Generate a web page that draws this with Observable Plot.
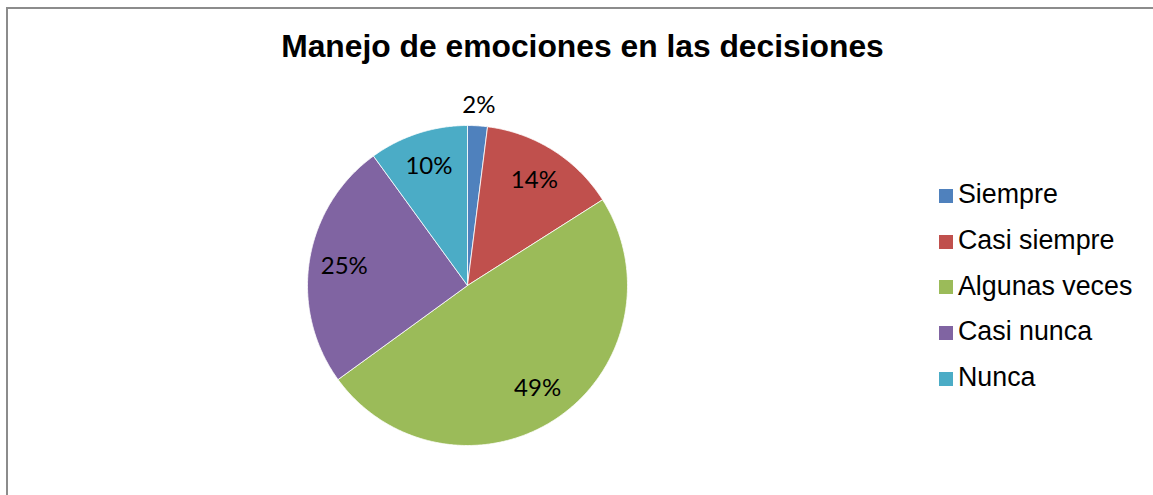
<!DOCTYPE html>
<html>
<head>
<meta charset="utf-8">
<script src="https://cdn.jsdelivr.net/npm/d3@7"></script>
<script src="https://cdn.jsdelivr.net/npm/@observablehq/plot@0.6"></script>
<style>
  html, body { margin: 0; padding: 0; background: #fff; }
  #wrap { position: relative; width: 1153px; height: 495px; overflow: hidden; font-family: "Liberation Sans", Arial, sans-serif; }
  #frame { position: absolute; left: 6px; top: 7px; width: 1200px; height: 600px; border-top: 2px solid #8c8c8c; border-left: 2px solid #8c8c8c; }
  #title { position: absolute; left: 0; width: 1165px; top: 28px; text-align: center; font-weight: bold; font-size: 31.8px; line-height: 36px; color: #000; }
  #pie { position: absolute; left: 267px; top: 85px; }
  .sw { position: absolute; left: 939px; width: 14px; height: 14px; }
  .lt { position: absolute; left: 958px; font-size: 26.8px; line-height: 30px; color: #000; white-space: nowrap; }
</style>
</head>
<body>
<div id="wrap">
  <div id="frame"></div>
  <div id="title">Manejo de emociones en las decisiones</div>
  <div id="pie"></div>
  <div id="legend"></div>
</div>
<script>
const categories = ["Siempre", "Casi siempre", "Algunas veces", "Casi nunca", "Nunca"];
const values = [2, 14, 49, 25, 10];
const labels = ["2%", "14%", "49%", "25%", "10%"];
const colors = ["#4F81BD", "#C0504D", "#9BBB59", "#8064A2", "#4BACC6"];

const total = d3.sum(values);
const slices = [];
const labelPts = [];
let acc = 0;
values.forEach((v, i) => {
  const a0 = acc / total * 2 * Math.PI;
  acc += v;
  const a1 = acc / total * 2 * Math.PI;
  const n = Math.max(2, Math.ceil((a1 - a0) / (Math.PI / 360)));
  slices.push({cat: categories[i], x: 0, y: 0});
  for (let k = 0; k <= n; k++) {
    const a = a0 + (a1 - a0) * k / n;
    slices.push({cat: categories[i], x: Math.sin(a), y: Math.cos(a)});
  }
  slices.push({cat: categories[i], x: 0, y: 0});
  const am = (a0 + a1) / 2;
  const r = v / total < 0.05 ? 1.13 : 0.78;
  labelPts.push({label: labels[i], x: r * Math.sin(am), y: r * Math.cos(am)});
});

const chart = Plot.plot({
  width: 400,
  height: 400,
  margin: 0,
  x: {domain: [-1.25, 1.25], axis: null},
  y: {domain: [-1.25, 1.25], axis: null},
  color: {domain: categories, range: colors},
  style: {background: "transparent", overflow: "visible"},
  marks: [
    Plot.line(slices, {x: "x", y: "y", z: "cat", fill: "cat", stroke: "white", strokeWidth: 0.8, strokeLinejoin: "round"}),
    Plot.text(labelPts, {x: "x", y: "y", text: "label", fontFamily: "Lato, 'Open Sans', sans-serif", fontSize: 24, fill: "#000"})
  ]
});
document.getElementById("pie").appendChild(chart);

const legend = document.getElementById("legend");
categories.forEach((c, i) => {
  const sw = document.createElement("div");
  sw.className = "sw";
  sw.style.top = (189 + i * 45.7) + "px";
  sw.style.background = colors[i];
  legend.appendChild(sw);
  const t = document.createElement("div");
  t.className = "lt";
  t.style.top = (179.3 + i * 45.7) + "px";
  t.textContent = c;
  legend.appendChild(t);
});
</script>
</body>
</html>
